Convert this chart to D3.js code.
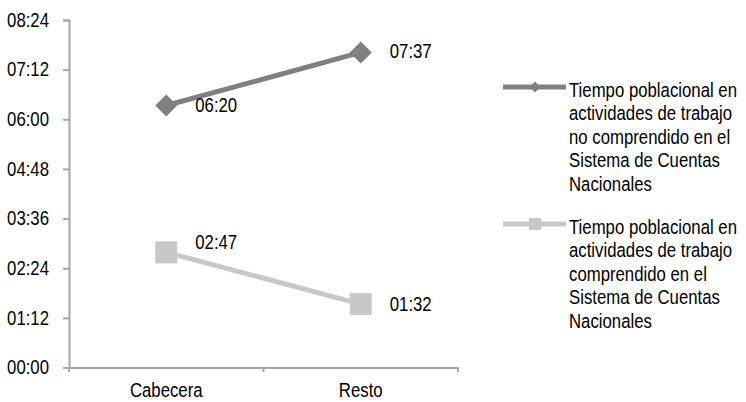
<!DOCTYPE html>
<html><head><meta charset="utf-8">
<script src="https://cdn.jsdelivr.net/npm/d3@7"></script>
<style>
html,body{margin:0;padding:0;background:#fff;}
text{font-family:"Liberation Sans",Arial,sans-serif;fill:#000;}
</style></head>
<body>
<svg id="c" width="746" height="402"></svg>
<script>
const categories = ["Cabecera", "Resto"];
const legendLines = [
  ["Tiempo poblacional en", "actividades de trabajo", "no comprendido en el", "Sistema de Cuentas", "Nacionales"],
  ["Tiempo poblacional en", "actividades de trabajo", "comprendido en el", "Sistema de Cuentas", "Nacionales"]
];
// values in minutes
const noSCN = [380, 457];   // 06:20, 07:37
const siSCN = [167, 92];    // 02:47, 01:32
const yTicks = [0, 72, 144, 216, 288, 360, 432, 504];

const fmt = m => String(Math.floor(m/60)).padStart(2,"0") + ":" + String(m%60).padStart(2,"0");

const svg = d3.select("#c");
const x = d3.scaleBand().domain(categories).range([69, 458]);
const y = d3.scaleLinear().domain([0, 504]).range([367.5, 20]);
const fs = 19.5, sx = 0.86;

function condense(sel){
  sel.each(function(){
    const t = d3.select(this);
    const tx = +t.attr("x") || 0, ty = +t.attr("y") || 0;
    t.attr("x",0).attr("y",0).attr("transform",`translate(${tx},${ty}) scale(${sx},1)`)
     .attr("font-size",fs).attr("font-family","Liberation Sans, Arial").attr("fill","#000");
  });
}

// y axis
const yAxis = svg.append("g").attr("transform","translate(69,0)")
  .call(d3.axisLeft(y).tickValues(yTicks).tickFormat(fmt).tickSize(6).tickPadding(14));
yAxis.select(".domain").attr("stroke","#a6a6a6").attr("stroke-width",2);
yAxis.selectAll(".tick line").attr("stroke","#a6a6a6").attr("stroke-width",2);
condense(yAxis.selectAll(".tick text"));

// x axis
const xAxis = svg.append("g").attr("transform","translate(0,367.5)")
  .call(d3.axisBottom(x).tickSize(0).tickPadding(16));
xAxis.select(".domain").attr("stroke","#a6a6a6").attr("stroke-width",2);
condense(xAxis.selectAll(".tick text"));
const bounds = [x.range()[0], x(categories[1]), x.range()[1]];
svg.append("g").selectAll("line").data(bounds).join("line")
  .attr("x1",d=>d).attr("x2",d=>d).attr("y1",367.5).attr("y2",372)
  .attr("stroke","#a6a6a6").attr("stroke-width",2);

const cx = c => x(c) + x.bandwidth()/2;
const series = [
  {vals: noSCN, color:"#808080", marker:"diamond", dy:[7,6]},
  {vals: siSCN, color:"#c8c8c8", marker:"square", dy:[-3,7]}
];
const line = d3.line().x((d,i)=>cx(categories[i])).y(d=>y(d));

series.forEach(s => {
  const g = svg.append("g");
  g.append("path").datum(s.vals).attr("d", line).attr("fill","none")
    .attr("stroke", s.color).attr("stroke-width",5);
  g.selectAll("path.m").data(s.vals).join("path").attr("class","m")
    .attr("transform",(d,i)=>`translate(${cx(categories[i])},${y(d)})`)
    .attr("d", s.marker==="diamond" ? "M0,-11L11,0L0,11L-11,0Z" : "M-11,-11H11V11H-11Z")
    .attr("fill", s.color);
  condense(g.selectAll("text").data(s.vals).join("text")
    .attr("x",(d,i)=>cx(categories[i]) + 29)
    .attr("y",(d,i)=>y(d) + s.dy[i])
    .text(d=>fmt(d)));
});

// legend
const legTop = [87, 224];
series.forEach((s,k) => {
  const g = svg.append("g");
  const ly = legTop[k];
  g.append("line").attr("x1",503).attr("x2",566).attr("y1",ly).attr("y2",ly)
    .attr("stroke",s.color).attr("stroke-width",5);
  g.append("path").attr("transform",`translate(535,${ly})`)
    .attr("d", s.marker==="diamond" ? "M0,-5.5L5.5,0L0,5.5L-5.5,0Z" : "M-6,-6H6V6H-6Z")
    .attr("fill", s.color);
  condense(g.selectAll("text").data(legendLines[k]).join("text")
    .attr("x",569).attr("y",(d,i)=>ly + 9.5 + i*23.5)
    .text(d=>d));
});
</script>
</body></html>
